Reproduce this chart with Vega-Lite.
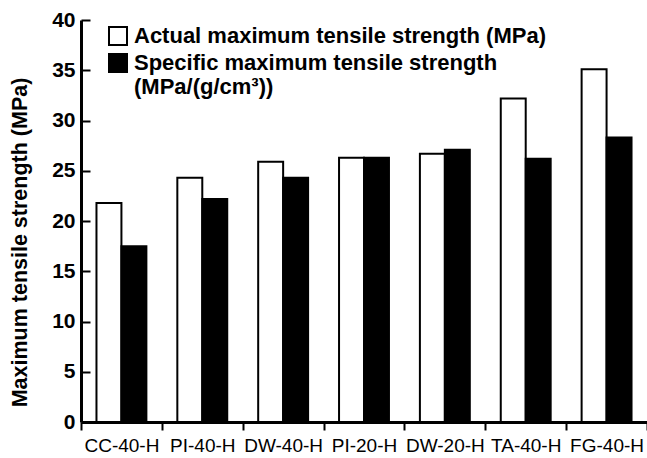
{
  "$schema": "https://vega.github.io/schema/vega-lite/v6.json",
  "width": 566,
  "height": 402,
  "autosize": "none",
  "padding": {"left": 81, "top": 20, "right": 0, "bottom": 36},
  "background": "white",
  "data": {
    "values": [
      {"sample": "CC-40-H", "series": "Actual", "value": 21.8},
      {"sample": "CC-40-H", "series": "Specific", "value": 17.5},
      {"sample": "PI-40-H", "series": "Actual", "value": 24.3},
      {"sample": "PI-40-H", "series": "Specific", "value": 22.2},
      {"sample": "DW-40-H", "series": "Actual", "value": 25.9},
      {"sample": "DW-40-H", "series": "Specific", "value": 24.3},
      {"sample": "PI-20-H", "series": "Actual", "value": 26.3},
      {"sample": "PI-20-H", "series": "Specific", "value": 26.3},
      {"sample": "DW-20-H", "series": "Actual", "value": 26.7},
      {"sample": "DW-20-H", "series": "Specific", "value": 27.1},
      {"sample": "TA-40-H", "series": "Actual", "value": 32.2},
      {"sample": "TA-40-H", "series": "Specific", "value": 26.2},
      {"sample": "FG-40-H", "series": "Actual", "value": 35.1},
      {"sample": "FG-40-H", "series": "Specific", "value": 28.3}
    ]
  },
  "mark": {"type": "bar", "stroke": "black", "strokeWidth": 2},
  "encoding": {
    "x": {
      "field": "sample",
      "type": "nominal",
      "sort": null,
      "scale": {"paddingInner": 0, "paddingOuter": 0},
      "axis": {
        "title": null,
        "labelAngle": 0,
        "labelFont": "Liberation Sans",
        "labelFontSize": 19,
        "labelColor": "black",
        "labelPadding": 6,
        "domainColor": "black",
        "domainWidth": 3,
        "tickColor": "black",
        "tickWidth": 2,
        "tickSize": 8,
        "tickBand": "extent"
      }
    },
    "xOffset": {"field": "series", "type": "nominal", "scale": {"paddingOuter": 0.62, "paddingInner": 0}},
    "y": {
      "field": "value",
      "type": "quantitative",
      "scale": {"domain": [0, 40], "nice": false},
      "axis": {
        "title": "Maximum tensile strength (MPa)",
        "titleFont": "Liberation Sans",
        "titleFontSize": 21.5,
        "titleFontWeight": "bold",
        "titleColor": "black",
        "titleX": -61,
        "titleY": 222,
        "titleAngle": 270,
        "titleBaseline": "middle",
        "titleAlign": "center",
        "values": [0, 5, 10, 15, 20, 25, 30, 35, 40],
        "labelFont": "Liberation Sans",
        "labelFontSize": 21,
        "labelFontWeight": "bold",
        "labelColor": "black",
        "labelPadding": 15,
        "grid": false,
        "domainColor": "black",
        "domainWidth": 3,
        "tickColor": "black",
        "tickWidth": 2,
        "tickSize": -9
      }
    },
    "fill": {
      "field": "series",
      "type": "nominal",
      "scale": {"domain": ["Actual", "Specific"], "range": ["white", "black"]},
      "legend": {
        "orient": "none",
        "legendX": 26,
        "legendY": 5,
        "title": null,
        "symbolType": "square",
        "symbolSize": 324,
        "symbolStrokeColor": "black",
        "symbolStrokeWidth": 2,
        "labelFont": "Liberation Sans",
        "labelFontSize": 22,
        "labelFontWeight": "bold",
        "labelColor": "black",
        "labelLimit": 0,
        "labelOffset": 5,
        "rowPadding": 1,
        "labelExpr": "datum.label == 'Actual' ? 'Actual maximum tensile strength (MPa)' : ['Specific maximum tensile strength', '(MPa/(g/cm³))']"
      }
    }
  },
  "config": {"view": {"stroke": null}}
}
